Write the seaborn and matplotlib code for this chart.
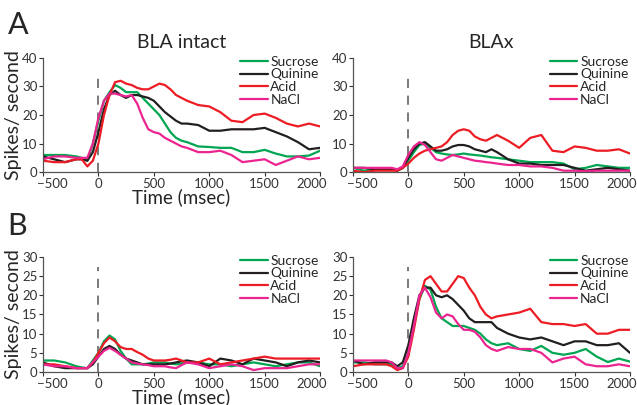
import matplotlib
matplotlib.use('Agg')
import matplotlib.pyplot as plt
import matplotlib.transforms as mtrans
import seaborn as sns
import pandas as pd

# time axis (msec)
time = [-500, -400, -300, -200, -150, -100, -50, 0, 50, 100, 150, 200, 250, 300, 350, 400,
        450, 500, 550, 600, 650, 700, 750, 800, 900, 1000, 1100, 1200, 1300, 1400, 1500,
        1600, 1700, 1800, 1900, 2000]

tastes = ['Sucrose', 'Quinine', 'Acid', 'NaCl']

# A - BLA intact
a_intact_sucrose = [6, 6, 6, 5.5, 5, 4, 10, 18, 25, 28, 30.5, 29.5, 28, 28, 28, 26, 24, 22,
                    20, 17, 14, 12, 11, 10.5, 9, 8.8, 8.5, 8.5, 7, 7, 7.8, 6.5, 5.5, 5.5, 5.8, 7.5]
a_intact_quinine = [5.5, 4.5, 3.5, 4.5, 4.5, 4, 7, 14, 22, 27, 28.5, 27, 26, 27, 27, 26.5, 26, 25,
                    23, 21, 19.5, 18, 17, 17, 16.5, 14.5, 14.5, 15, 15, 15, 15.5, 14, 12.5, 10.5, 8, 8.5]
a_intact_acid = [4, 3.5, 3.5, 4.5, 4.5, 2, 4, 10, 20, 27, 31.5, 32, 31, 30.5, 29.5, 29, 29, 30,
                 31, 30.5, 29, 27, 26, 25, 23.5, 23, 21, 18, 17.5, 20, 20.5, 19, 17, 16, 17, 16]
a_intact_nacl = [4.5, 5.5, 5.5, 5, 5, 5, 10, 19, 25, 27.5, 27.5, 27, 26.5, 27, 24, 19, 15, 14,
                 13.5, 12, 11, 10, 9, 8.5, 7, 7, 7.5, 6, 3.5, 4, 4.5, 2.5, 4, 5.5, 4.5, 5]

# A - BLAx
a_blax_sucrose = [1.5, 0.5, 1, 1, 1, 0.5, 1.5, 4, 7, 9.5, 10, 8.5, 7, 6.5, 6.2, 6, 6.2, 6.5,
                  6.2, 6, 5.8, 5.5, 5.2, 5, 4.5, 4, 3.5, 3.5, 3.5, 3, 1, 1.5, 2.5, 2, 1.5, 1.5]
a_blax_quinine = [1.5, 1.5, 1, 1, 1, 0.5, 1.5, 5, 8, 10, 10.5, 9, 7.5, 7.5, 8, 9, 9.5, 9.5,
                  9, 8, 7.5, 7, 8, 7, 4.5, 3, 3, 2.5, 2.5, 2.5, 1.5, 0.5, 1, 1.5, 1, 0.5]
a_blax_acid = [0.5, 0, 0.5, 0.5, 0.5, 0.5, 1.5, 3, 5, 6.5, 7.5, 8, 8.5, 9, 10.5, 13, 14.5, 15,
               14.5, 12.5, 11.5, 11, 12, 13, 11, 8.5, 12, 13, 7.5, 7, 9, 8.5, 7.5, 7.5, 8, 6.5]
a_blax_nacl = [1.5, 1.5, 1.5, 1.5, 1.5, 1, 2, 6, 9, 10.5, 9.5, 7, 4.5, 4, 5, 6, 5.5, 5,
               4.5, 4, 3.8, 3.5, 3.3, 3, 2.5, 2.5, 2, 2, 1.5, 0.5, 0.5, 0.3, 0.5, 0.5, 0.5, 0.5]

# B - BLA intact
b_intact_sucrose = [3, 3, 2.5, 1.5, 1.2, 1, 3, 5, 8, 9.5, 8.5, 5.5, 3.5, 2, 2, 2, 2.2, 2.5,
                    2.5, 2.5, 2.2, 2, 2.2, 2.5, 2.5, 2, 2, 1.5, 2, 2.5, 2, 1.5, 2, 2.5, 2.5, 1.5]
b_intact_quinine = [2.5, 1.5, 1, 1, 1, 1, 2, 4, 6, 6.8, 6, 4.5, 3.5, 3, 2.5, 2, 2, 2,
                    2, 2, 2.2, 2.5, 2.8, 3, 2.5, 1.5, 3.5, 3, 2, 3.5, 3, 2.5, 1.5, 2.5, 3, 2.5]
b_intact_acid = [2, 2, 1.5, 1, 1, 1, 2.5, 5, 7.5, 9, 8, 6.5, 6, 6, 5.2, 4.5, 3.5, 3,
                 3, 3, 3.2, 3.5, 3, 2.5, 2.5, 3.5, 2, 2.5, 3, 3.5, 4, 3.5, 3.5, 3.5, 3.5, 3.5]
b_intact_nacl = [2, 1.5, 1.5, 1, 1, 1, 2.5, 4, 5.5, 6.3, 5.5, 4.5, 3.5, 2.5, 2.2, 2, 1.8, 1.5,
                 1.5, 1.5, 1.2, 1, 1.8, 2.5, 2, 1, 1.5, 2, 1.5, 0.5, 1, 1, 1, 1.5, 2, 2]

# B - BLAx
b_blax_sucrose = [2.5, 2.5, 2, 2, 2, 1, 1.5, 5, 12, 19, 22.5, 21.5, 17, 14, 13, 12, 12, 12,
                  11.5, 11, 10, 8.5, 7.5, 7, 7.5, 6, 5.5, 6.8, 5, 4.5, 5, 6, 4, 2.6, 3.5, 2.7]
b_blax_quinine = [3, 2, 2.5, 2.5, 2.5, 1.5, 2.5, 7, 14, 20, 22, 22, 20, 19.5, 20, 19, 17.5, 16,
                  14, 13, 13, 13, 13, 11.5, 10, 9, 8.5, 9, 8, 7, 8, 8, 7, 7, 7.5, 5]
b_blax_acid = [1.5, 2, 2, 2, 1.5, 0.5, 1, 4, 11, 19, 24, 25, 23, 21, 21, 23, 25, 24.5,
               22, 20, 17, 15, 14, 14.5, 15, 15.5, 16.5, 13, 12.5, 12.5, 12, 12.5, 10, 10, 11, 11]
b_blax_nacl = [3, 3, 3, 3, 2.5, 1, 1, 5, 12, 20, 22, 19.5, 15.5, 14, 15, 14.5, 12.5, 11,
               11, 10.5, 9, 7, 6, 5.5, 6.5, 6, 6, 5, 2.5, 3.5, 4, 2, 1.5, 1.5, 2, 1.5]

palette = {'Sucrose': '#00a651', 'Quinine': '#231f20', 'Acid': '#ed1c24', 'NaCl': '#ec248f'}


def make_df(series):
    rows = []
    for name, vals in zip(tastes, series):
        for t, v in zip(time, vals):
            rows.append({'time': t, 'rate': v, 'taste': name})
    return pd.DataFrame(rows)


sns.set_style('white')
plt.rcParams['font.family'] = ['Lato', 'DejaVu Sans']

fig = plt.figure(figsize=(6.37, 4.05), dpi=100)

panels = [
    ([0.0675, 0.575, 0.435, 0.282], [a_intact_sucrose, a_intact_quinine, a_intact_acid, a_intact_nacl], 40, 35),
    ([0.554, 0.575, 0.435, 0.282], [a_blax_sucrose, a_blax_quinine, a_blax_acid, a_blax_nacl], 40, 35),
    ([0.0675, 0.0815, 0.435, 0.284], [b_intact_sucrose, b_intact_quinine, b_intact_acid, b_intact_nacl], 30, 27.5),
    ([0.554, 0.0815, 0.435, 0.284], [b_blax_sucrose, b_blax_quinine, b_blax_acid, b_blax_nacl], 30, 27.5),
]

axes = []
for i, (pos, series, ymax, dash_top) in enumerate(panels):
    ax = fig.add_axes(pos)
    df = make_df(series)
    ax.vlines(0, 0, dash_top, colors='#555555', linestyles=(0, (6, 5)), linewidth=1.1)
    sns.lineplot(data=df, x='time', y='rate', hue='taste', palette=palette,
                 linewidth=1.6, ax=ax)
    ax.set_xlim(-500, 2000)
    ax.set_ylim(0, ymax)
    ax.set_xticks([-500, 0, 500, 1000, 1500, 2000])
    ax.set_yticks(range(0, ymax + 1, 10 if ymax == 40 else 5))
    ax.set_xlabel('')
    ax.set_ylabel('')
    for s in ['top', 'right']:
        ax.spines[s].set_visible(False)
    for s in ['left', 'bottom']:
        ax.spines[s].set_color('#555555')
        ax.spines[s].set_linewidth(0.9)
    ax.tick_params(axis='both', labelsize=9.5, colors='#333333', length=3, width=0.8,
                   direction='out', pad=1, left=True, bottom=True)
    # nudge the end labels inward like the original
    xl = ax.get_xticklabels()
    xl[0].set_transform(xl[0].get_transform() + mtrans.ScaledTranslation(7 / 72, 0, fig.dpi_scale_trans))
    xl[-1].set_transform(xl[-1].get_transform() + mtrans.ScaledTranslation(-6 / 72, 0, fig.dpi_scale_trans))
    ax.legend(loc='upper right', bbox_to_anchor=(1.02, 1.08), frameon=False, fontsize=10,
              handlelength=2.0, handletextpad=0.2, labelspacing=0.05, borderpad=0)
    axes.append(ax)

axes[0].set_title('BLA intact', fontsize=14, pad=7)
axes[1].set_title('BLAx', fontsize=14, pad=7)
for ax in [axes[0], axes[2]]:
    ax.set_ylabel('Spikes/ second', fontsize=14, labelpad=0)
    ax.set_xlabel('Time (msec)', fontsize=13.5, labelpad=-1)

fig.text(0.012, 0.915, 'A', fontsize=22)
fig.text(0.012, 0.42, 'B', fontsize=22)

plt.savefig('out.png', dpi=100)
